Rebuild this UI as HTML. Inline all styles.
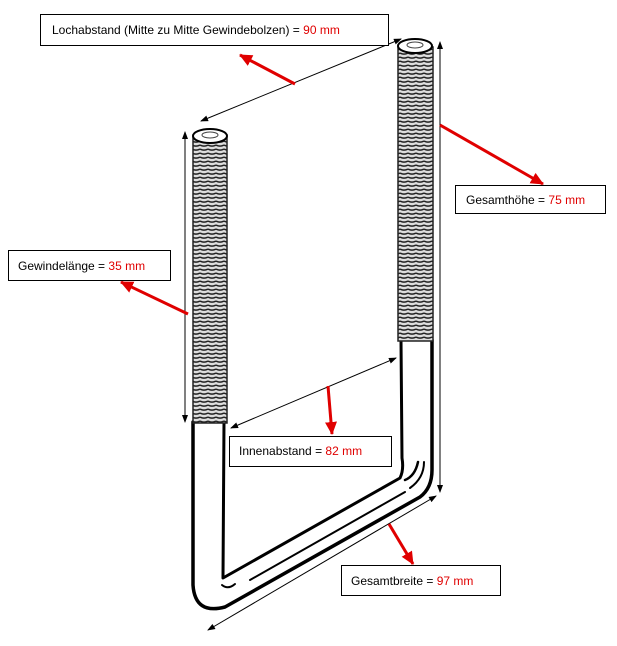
<!DOCTYPE html>
<html><head><style>
body{margin:0;background:#fff;}
svg{display:block;}
text{font-family:"Liberation Sans",sans-serif;font-size:12px;fill:#000;}
.r{fill:#e00000;}
</style></head><body>
<svg width="617" height="646" viewBox="0 0 617 646" xmlns="http://www.w3.org/2000/svg">
<defs>
<pattern id="th" width="8" height="4" patternUnits="userSpaceOnUse">
<rect width="8" height="4" fill="#ddd"/>
<path d="M0 1 Q4 3.2 8 1" stroke="#222" stroke-width="1.5" fill="none"/>
</pattern>
<marker id="a" markerWidth="8" markerHeight="8" refX="7" refY="4" orient="auto-start-reverse" markerUnits="userSpaceOnUse">
<path d="M0 1 L8 4 L0 7 Z" fill="#000"/></marker>
<marker id="ra" markerWidth="14" markerHeight="14" refX="12" refY="7" orient="auto" markerUnits="userSpaceOnUse">
<path d="M0 1 L13 7 L0 13 Z" fill="#e00000"/></marker>
</defs>

<g fill="none" stroke="#000" stroke-linecap="round" stroke-linejoin="round">
<path d="M193 422 L193 585 Q195 615 225 607 L420 497 Q432 488 432 470 L432 340" stroke-width="3.5"/>
<path d="M224 422 L223 578 L400 478 Q404 470 402 458 L401 340" stroke-width="3"/>
<path d="M222 585 Q228 590 235 584" stroke-width="2"/>
<path d="M250 580 L405 492" stroke-width="2"/>
<path d="M405 480 Q415 476 418 462" stroke-width="2.5"/>
<path d="M410 488 Q424 478 424 462" stroke-width="2"/>
</g>
<rect x="193" y="137" width="34" height="286" fill="url(#th)" stroke="#222" stroke-width="1.5"/>
<ellipse cx="210" cy="136" rx="17" ry="7" fill="#fff" stroke="#000" stroke-width="2"/>
<ellipse cx="210" cy="135" rx="8" ry="3" fill="none" stroke="#444" stroke-width="1"/>
<rect x="398" y="47" width="35" height="294" fill="url(#th)" stroke="#222" stroke-width="1.5"/>
<ellipse cx="415" cy="46" rx="17" ry="7" fill="#fff" stroke="#000" stroke-width="2"/>
<ellipse cx="415" cy="45" rx="8" ry="3" fill="none" stroke="#444" stroke-width="1"/>

<g stroke="#000" stroke-width="1" fill="none">
<line x1="201" y1="121" x2="401" y2="39" marker-start="url(#a)" marker-end="url(#a)"/>
<line x1="440" y1="42" x2="440" y2="492" marker-start="url(#a)" marker-end="url(#a)"/>
<line x1="185" y1="132" x2="185" y2="422" marker-start="url(#a)" marker-end="url(#a)"/>
<line x1="231" y1="428" x2="396" y2="358" marker-start="url(#a)" marker-end="url(#a)"/>
<line x1="208" y1="630" x2="436" y2="496" marker-start="url(#a)" marker-end="url(#a)"/>
</g>
<g stroke="#e00000" stroke-width="3" fill="none">
<line x1="295" y1="84" x2="240" y2="55" marker-end="url(#ra)"/>
<line x1="440" y1="125" x2="543" y2="184" marker-end="url(#ra)"/>
<line x1="188" y1="314" x2="121" y2="282" marker-end="url(#ra)"/>
<line x1="328" y1="386" x2="332" y2="434" marker-end="url(#ra)"/>
<line x1="389" y1="524" x2="413" y2="564" marker-end="url(#ra)"/>
</g>

<g fill="#fff" stroke="#000" stroke-width="1">
<rect x="40.5" y="14.5" width="348" height="31"/>
<rect x="455.5" y="185.5" width="150" height="28"/>
<rect x="8.5" y="250.5" width="162" height="30"/>
<rect x="229.5" y="436.5" width="162" height="30"/>
<rect x="341.5" y="565.5" width="159" height="30"/>
</g>
<text x="52" y="34">Lochabstand (Mitte zu Mitte Gewindebolzen) = <tspan class="r">90 mm</tspan></text>
<text x="466" y="204">Gesamthöhe = <tspan class="r">75 mm</tspan></text>
<text x="18" y="270">Gewindelänge = <tspan class="r">35 mm</tspan></text>
<text x="239" y="455">Innenabstand = <tspan class="r">82 mm</tspan></text>
<text x="351" y="585">Gesamtbreite = <tspan class="r">97 mm</tspan></text>
</svg>
</body></html>
